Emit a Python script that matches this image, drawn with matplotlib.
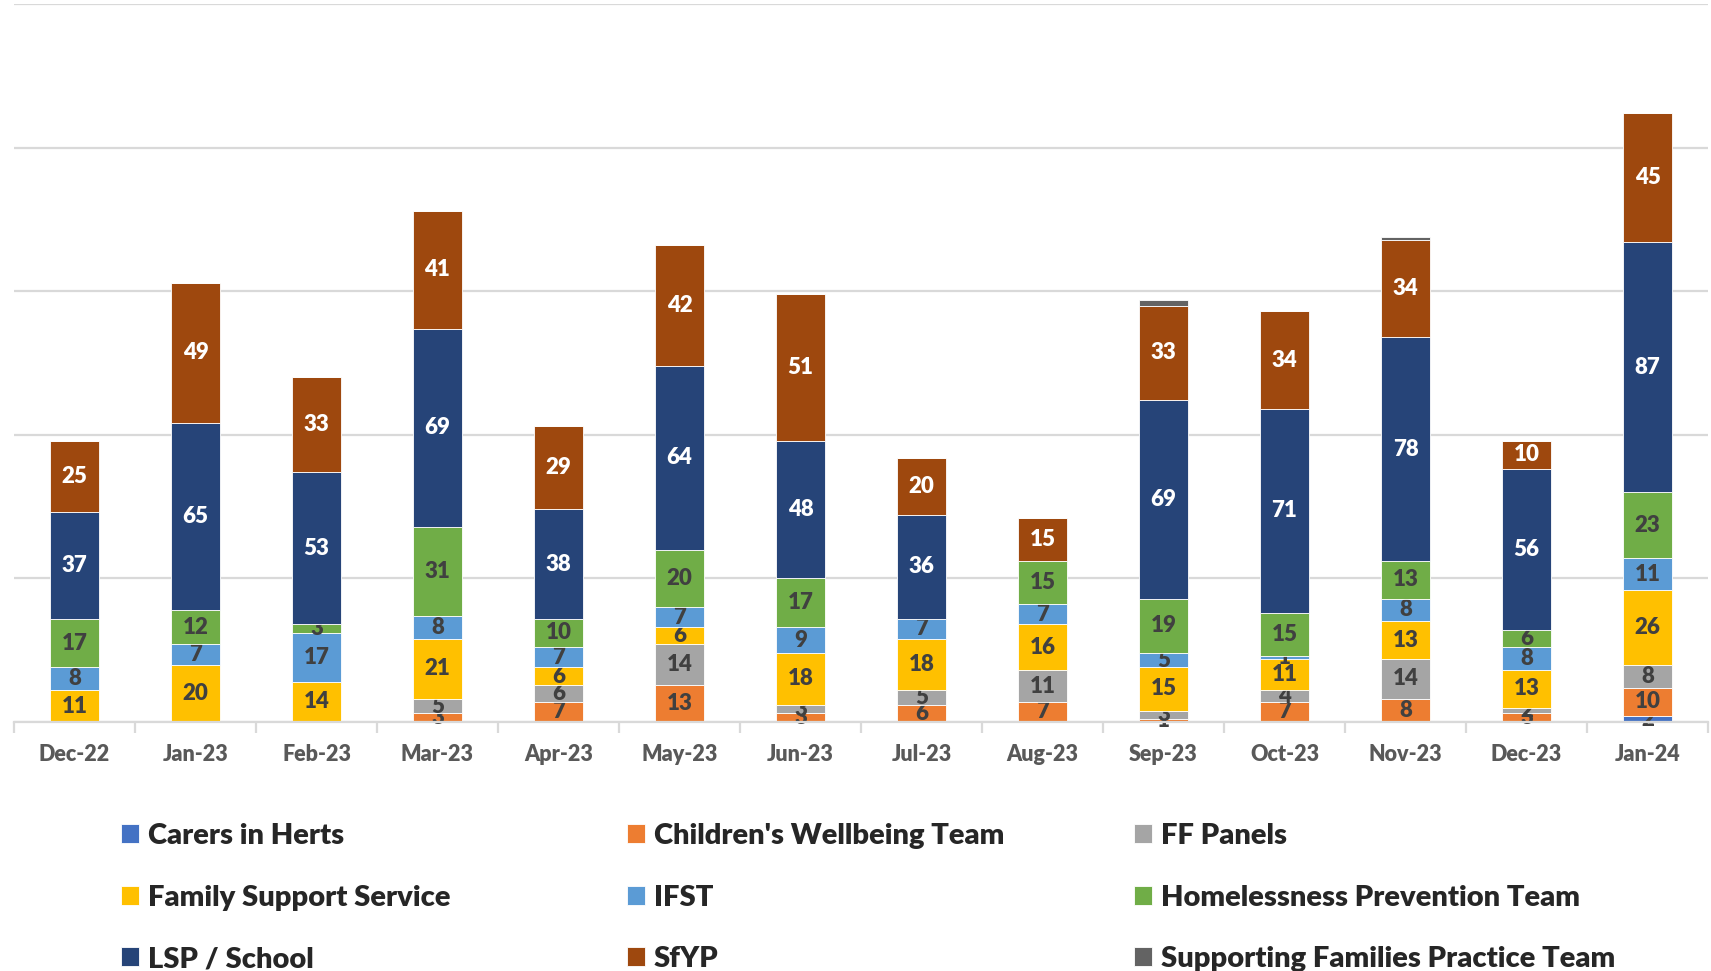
import matplotlib.pyplot as plt
import numpy as np

plt.rcParams['font.family'] = ['Lato', 'DejaVu Sans']
plt.rcParams['font.weight'] = 'bold'

months = ["Dec-22", "Jan-23", "Feb-23", "Mar-23", "Apr-23", "May-23", "Jun-23",
          "Jul-23", "Aug-23", "Sep-23", "Oct-23", "Nov-23", "Dec-23", "Jan-24"]

# one list per team, in stacking order (bottom to top)
carers_in_herts = [0, 0, 0, 0, 0, 0, 0, 0, 0, 0, 0, 0, 0, 2]
childrens_wellbeing = [0, 0, 0, 3, 7, 13, 3, 6, 7, 1, 7, 8, 3, 10]
ff_panels = [0, 0, 0, 5, 6, 14, 3, 5, 11, 3, 4, 14, 2, 8]
family_support = [11, 20, 14, 21, 6, 6, 18, 18, 16, 15, 11, 13, 13, 26]
ifst = [8, 7, 17, 8, 7, 7, 9, 7, 7, 5, 1, 8, 8, 11]
homelessness = [17, 12, 3, 31, 10, 20, 17, 0, 15, 19, 15, 13, 6, 23]
lsp_school = [37, 65, 53, 69, 38, 64, 48, 36, 0, 69, 71, 78, 56, 87]
sfyp = [25, 49, 33, 41, 29, 42, 51, 20, 15, 33, 34, 34, 10, 45]
sf_practice = [0, 0, 0, 0, 0, 0, 0, 0, 0, 2, 0, 1, 0, 0]

series = [
    ("Carers in Herts", carers_in_herts, "#4472C4", "#404040", True),
    ("Children's Wellbeing Team", childrens_wellbeing, "#ED7D31", "#404040", True),
    ("FF Panels", ff_panels, "#A5A5A5", "#404040", True),
    ("Family Support Service", family_support, "#FFC000", "#404040", True),
    ("IFST", ifst, "#5B9BD5", "#404040", True),
    ("Homelessness Prevention Team", homelessness, "#70AD47", "#404040", True),
    ("LSP / School", lsp_school, "#264478", "white", True),
    ("SfYP", sfyp, "#9E480E", "white", True),
    ("Supporting Families Practice Team", sf_practice, "#636363", "#404040", False),
]

fig = plt.figure(figsize=(17.11, 9.71), dpi=100)
ax = fig.add_axes([14 / 1711, 249 / 971, 1694 / 1711, 718 / 971])

x = np.arange(len(months))
bottom = np.zeros(len(months))
handles = {}
for name, vals, col, tcol, show in series:
    vals = np.array(vals)
    bars = ax.bar(x, vals, 0.4, bottom=bottom, color=col, edgecolor="white",
                  linewidth=0.6, label=name, zorder=3)
    handles[name] = bars
    if show:
        labels = [str(v) if v > 0 else "" for v in vals]
        ax.bar_label(bars, labels=labels, label_type="center", color=tcol,
                     fontsize=16, fontweight="heavy")
    bottom += vals

ax.set_xlim(-0.5, len(months) - 0.5)
ax.set_ylim(0, 250)
ax.set_yticks(np.arange(0, 251, 50))
ax.yaxis.grid(True, color="#D9D9D9", linewidth=1.6, zorder=0)
ax.tick_params(axis="y", left=False, labelleft=False)
for s in ["top", "right", "left"]:
    ax.spines[s].set_visible(False)
ax.spines["bottom"].set_color("#D9D9D9")
ax.spines["bottom"].set_linewidth(1.6)
ax.spines["bottom"].set_zorder(4)

ax.set_xticks(x)
ax.set_xticklabels(months, fontsize=15.5, color="#595959", fontweight="heavy")
ax.tick_params(axis="x", which="major", length=0, pad=16)
ax.set_xticks(np.arange(-0.5, len(months)), minor=True)
ax.tick_params(axis="x", which="minor", length=8, width=1.6, color="#D9D9D9")

# legend: three columns laid out row by row
cols = [
    ["Carers in Herts", "Family Support Service", "LSP / School"],
    ["Children's Wellbeing Team", "IFST", "SfYP"],
    ["FF Panels", "Homelessness Prevention Team", "Supporting Families Practice Team"],
]
col_x = [121, 627, 1134]
for cx, names in zip(col_x, cols):
    leg = fig.legend([handles[n] for n in names], names, loc="upper left",
                     bbox_to_anchor=(cx / 1711, 1 - 823 / 971), frameon=False,
                     fontsize=21, labelcolor="#262626", handlelength=0.62,
                     handleheight=0.62, handletextpad=0.3, labelspacing=1.22,
                     borderaxespad=0, borderpad=0)
    for t in leg.get_texts():
        t.set_fontweight("heavy")

fig.savefig("out.png", dpi=100)
